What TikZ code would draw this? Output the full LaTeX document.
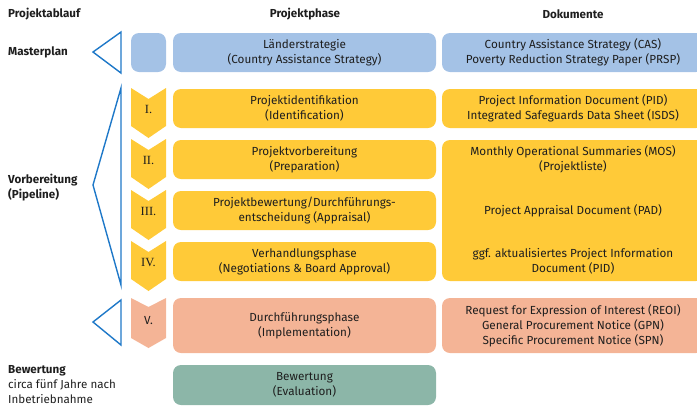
\documentclass[tikz,border=0pt]{standalone}
\usepackage{fontspec}
\setmainfont{Fira Sans}
\newfontfamily\roemisch{Liberation Serif}
\definecolor{hellblau}{RGB}{164,194,230}
\definecolor{gelb}{RGB}{255,202,56}
\definecolor{lachs}{RGB}{244,180,150}
\definecolor{petrol}{RGB}{140,182,168}
\definecolor{linienblau}{RGB}{30,120,200}
\definecolor{schrift}{RGB}{30,30,30}
\tikzset{
  kopf/.style={font=\fontsize{11.6}{14}\selectfont\bfseries, text=schrift},
  etikett/.style={anchor=west, align=left, font=\fontsize{11.6}{15}\selectfont, text=schrift, inner sep=0pt},
  phase/.style={rounded corners=8pt, minimum width=263pt, minimum height=39pt, align=center, inner sep=0pt, font=\fontsize{11.7}{15}\selectfont, text=schrift},
  doku/.style={phase, minimum width=262pt},
  dtext/.style={font=\fontsize{11.7}{15}\selectfont, text=schrift, align=center},
  klammer/.style={draw=linienblau, line width=1.4pt, line join=miter}
}
\begin{document}
\begin{tikzpicture}[x=1pt,y=-1pt]
\useasboundingbox (0,0) rectangle (697,408);
\clip (0,0) rectangle (697,408);
% kopfzeile
\node[kopf, anchor=west, inner sep=0pt] (hablauf) at (8,14) {Projektablauf};
\node[kopf] (hphase) at (305,14) {Projektphase};
\node[kopf] (hdoku) at (573,14) {Dokumente};
% masterplan
\node[etikett, font=\fontsize{11.6}{15}\selectfont\bfseries] (lmaster) at (8,52) {Masterplan};
\draw[klammer] (121,32) -- (93,52) -- (121,73) -- cycle;
\fill[hellblau, rounded corners=8pt] (131,33) rectangle (166,72);
\node[phase, fill=hellblau] (laender) at (304.5,52.5) {Länderstrategie\\(Country Assistance Strategy)};
\node[doku, fill=hellblau] (cas) at (573,52.5) {Country Assistance Strategy (CAS)\\Poverty Reduction Strategy Paper (PRSP)};
% vorbereitung
\node[etikett, font=\fontsize{11.6}{15}\selectfont\bfseries] (lvor) at (8,188) {Vorbereitung\\(Pipeline)};
\draw[klammer] (121,88) -- (93,185) -- (121,285) -- cycle;
\foreach \y/\t in {88/I., 139/II., 190/III., 241/IV.}
{
  \fill[gelb] (131,\y) -- (148.5,\y+11) -- (166,\y) -- (166,\y+38) -- (148.5,\y+50) -- (131,\y+38) -- cycle;
  \node[font=\roemisch\fontsize{12.5}{14}\selectfont, text=schrift] at (148.5,\y+21) {\t};
}
\node[phase, fill=gelb] (ident) at (304.5,108.5) {Projektidentifikation\\(Identification)};
\node[phase, fill=gelb] (prep) at (304.5,159.5) {Projektvorbereitung\\(Preparation)};
\node[phase, fill=gelb] (appr) at (304.5,210.5) {Projektbewertung/Durchführungs-\\entscheidung (Appraisal)};
\node[phase, fill=gelb] (verh) at (304.5,261.5) {Verhandlungsphase\\(Negotiations \& Board Approval)};
\node[doku, fill=gelb] (pid) at (573,108.5) {Project Information Document (PID)\\Integrated Safeguards Data Sheet (ISDS)};
\node[doku, fill=gelb, minimum height=141pt] (gross) at (573,210.5) {};
\node[dtext] (mos) at (573,159.5) {Monthly Operational Summaries (MOS)\\(Projektliste)};
\node[dtext] (pad) at (573,210.5) {Project Appraisal Document (PAD)};
\node[dtext] (ggf) at (573,261.5) {ggf. aktualisiertes Project Information\\Document (PID)};
% durchfuehrung
\draw[klammer] (121,300) -- (93,322) -- (121,345) -- cycle;
\fill[lachs] (131,298) -- (148.5,307) -- (166,298) -- (166,338) -- (148.5,348) -- (131,338) -- cycle;
\node[font=\fontsize{11.7}{13}\selectfont, text=schrift] (vnum) at (148.5,321) {V.};
\node[phase, fill=lachs, minimum height=55pt] (impl) at (304.5,325.5) {Durchführungsphase\\(Implementation)};
\node[doku, fill=lachs, minimum height=55pt] (reoi) at (573,325.5) {Request for Expression of Interest (REOI)\\General Procurement Notice (GPN)\\Specific Procurement Notice (SPN)};
% bewertung
\node[etikett] (lbew) at (8,385) {\textbf{Bewertung}\\circa fünf Jahre nach\\Inbetriebnahme};
\node[phase, fill=petrol, minimum height=40pt] (eval) at (304.5,385) {Bewertung\\(Evaluation)};
\end{tikzpicture}
\end{document}
